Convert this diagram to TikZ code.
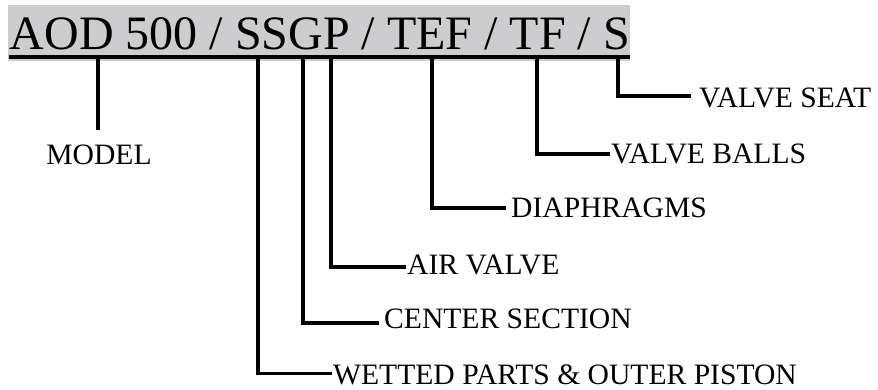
\documentclass[tikz,border=0pt]{standalone}
\usepackage{fontspec}
\setmainfont{Liberation Serif}
\definecolor{bannergray}{RGB}{205,204,206}
\begin{document}
\begin{tikzpicture}[x=1pt,y=-1pt,
  lead/.style={line width=3.6pt,line join=miter,black},
  lbl/.style={anchor=base west,inner sep=0pt,font=\fontsize{29.6}{29.6}\selectfont},
  hdr/.style={anchor=base west,inner sep=0pt,font=\fontsize{48}{48}\selectfont}]
\useasboundingbox (0,0) rectangle (878,390);
% banner
\fill[bannergray] (8,5) rectangle (630,61);
\node[hdr] (title) at (9.5,50) {AOD 500 / SSGP / TEF / TF / S};
\draw[line width=3.6pt] (9,57) -- (630,57);
% start points on the underline
\coordinate (sModel) at (98,57);
\coordinate (sWet) at (258,57);
\coordinate (sCen) at (303,57);
\coordinate (sAir) at (331,57);
\coordinate (sDia) at (432,57);
\coordinate (sBal) at (537,57);
\coordinate (sSea) at (618,57);
% end points
\coordinate (eModel) at (98,130);
\coordinate (eWet) at (332,373.5);
\coordinate (eCen) at (379,323);
\coordinate (eAir) at (406,267);
\coordinate (eDia) at (506,208);
\coordinate (eBal) at (610,154);
\coordinate (eSea) at (691,96);
% labels
\node[anchor=base,inner sep=0pt,font=\fontsize{29.6}{29.6}\selectfont] (model) at (99,165) {MODEL};
\node[lbl] (wet) at (333,384) {WETTED PARTS \& OUTER PISTON};
\node[lbl] (cen) at (384,328) {CENTER SECTION};
\node[lbl] (air) at (407,274) {AIR VALVE};
\node[lbl] (dia) at (511,218) {DIAPHRAGMS};
\node[lbl] (bal) at (611,164) {VALVE BALLS};
\node[lbl] (sea) at (699,108) {VALVE SEAT};
% leaders
\draw[lead] (sModel) -- (eModel);
\draw[lead] (sWet) |- (eWet);
\draw[lead] (sCen) |- (eCen);
\draw[lead] (sAir) |- (eAir);
\draw[lead] (sDia) |- (eDia);
\draw[lead] (sBal) |- (eBal);
\draw[lead] (sSea) |- (eSea);
\end{tikzpicture}
\end{document}
